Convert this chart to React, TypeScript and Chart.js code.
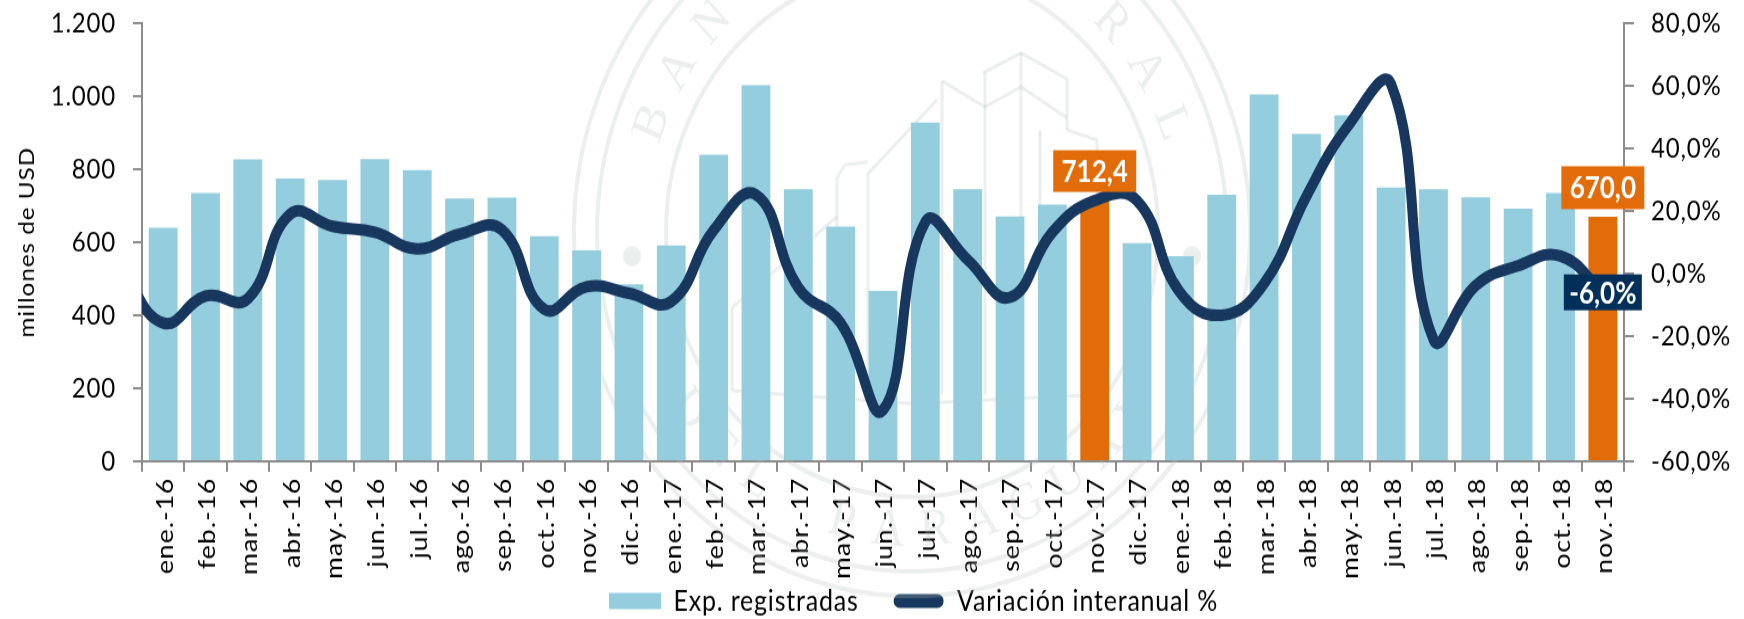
import React, { useEffect, useRef } from "react";
import { Chart, registerables } from "chart.js";

Chart.register(...registerables);

const categories = [
  "ene.-16","feb.-16","mar.-16","abr.-16","may.-16","jun.-16","jul.-16","ago.-16","sep.-16","oct.-16","nov.-16","dic.-16",
  "ene.-17","feb.-17","mar.-17","abr.-17","may.-17","jun.-17","jul.-17","ago.-17","sep.-17","oct.-17","nov.-17","dic.-17",
  "ene.-18","feb.-18","mar.-18","abr.-18","may.-18","jun.-18","jul.-18","ago.-18","sep.-18","oct.-18","nov.-18",
];
const exports_ = [
  640,735,827,775,771,828,798,720,722,617,578,485,
  591,840,1030,745,643,467,928,745,671,703,712.4,598,
  562,730,1005,897,948,750,745,723,692,735,670,
];
const variation = [
  -15.8,-7.2,-8,19,15.1,13.2,7.9,12.6,14,-11.4,-4.2,-6.3,
  -8.9,13.8,25.2,-4.5,-15.8,-43.6,16.5,4.4,-7.6,13.2,23.3,23.3,
  -5.7,-13.3,-3.2,24.7,47.5,60.5,-21,-3.8,2.5,5.6,-6,
];
const priorVariation = 2;
const highlighted = ["nov.-17", "nov.-18"];
const FONT = "Lato, 'Open Sans', sans-serif";
const BLUE = "#94CDDE";
const ORANGE = "#E36C0A";
const NAVY = "#17375E";
const AXIS = "#8C8C8C";
const INK = "#000000";
const WATERMARK = "rgba(176,192,186,0.26)";

// The reference is a picture stretched vertically: the canvas is drawn shorter and shown at full height.
const STRETCH = 1.16;
const CANVAS_W = 1744;
const CANVAS_H = Math.round(619 / STRETCH);
const SPACING = "0.8px";

const callouts = [
  { i: 22, axis: "y", value: 712.4, text: "712,4", bg: ORANGE, w: 83, h: 36, dy: -26 },
  { i: 34, axis: "y", value: 670, text: "670,0", bg: ORANGE, w: 83, h: 37, dy: -25 },
  { i: 34, axis: "y1", value: -6, text: "-6,0%", bg: "#00305A", w: 78, h: 31, dy: 0 },
];

const buildingLines = [
  [[983,73],[1021,53],[1067,79],[1067,130]],
  [[985,107],[1021,87],[1067,118]],
  [[1021,53],[1021,395]],
  [[985,73],[985,395]],
  [[942,81],[985,107]],
  [[942,81],[942,395]],
  [[937,100],[868,174],[868,395]],
  [[868,162],[845,165],[837,178],[837,392]],
  [[732,308],[837,217]],
  [[732,308],[732,391]],
  [[1067,130],[1097,140],[1097,395]],
  [[1040,130],[1040,395]],
  [[732,391],[912,404],[1097,395]],
];

const watermarkPlugin = {
  id: "watermark",
  beforeDatasetsDraw(chart: any) {
    const { ctx } = chart;
    const cx = 912, cy = 200, squash = 0.93;
    ctx.save();
    ctx.letterSpacing = "0px";
    ctx.strokeStyle = WATERMARK;
    ctx.fillStyle = WATERMARK;
    ctx.lineWidth = 4;
    [338, 315, 246].forEach((r) => {
      ctx.beginPath();
      ctx.ellipse(cx, cy, r, r * squash, 0, 0, Math.PI * 2);
      ctx.stroke();
    });
    [-1, 1].forEach((side) => {
      ctx.beginPath();
      ctx.arc(cx + side * 280, 221, 9, 0, Math.PI * 2);
      ctx.fill();
    });
    const arcText = (text: string, r: number, center: number, step: number, flip: boolean) => {
      ctx.font = `46px 'Liberation Serif', serif`;
      ctx.textAlign = "center";
      ctx.textBaseline = "middle";
      [...text].forEach((c, k) => {
        const a = center + (k - (text.length - 1) / 2) * step * (flip ? -1 : 1);
        ctx.save();
        ctx.translate(cx + r * Math.cos(a), cy + r * squash * Math.sin(a));
        ctx.rotate(a + (flip ? -Math.PI / 2 : Math.PI / 2));
        ctx.fillText(c, 0, 0);
        ctx.restore();
      });
    };
    arcText("BANCO CENTRAL", 278, -Math.PI / 2, 0.2, false);
    arcText("DEL PARAGUAY", 278, Math.PI / 2, 0.17, true);
    ctx.lineWidth = 3;
    buildingLines.forEach((line) => {
      ctx.beginPath();
      line.forEach(([x, y], k) => (k ? ctx.lineTo(x, y / STRETCH) : ctx.moveTo(x, y / STRETCH)));
      ctx.stroke();
    });
    ctx.restore();
  },
};

const calloutPlugin = {
  id: "callouts",
  afterDraw(chart: any) {
    const { ctx } = chart;
    const x = chart.scales.x;
    ctx.save();
    ctx.letterSpacing = "0px";
    callouts.forEach((c) => {
      const px = x.getPixelForValue(c.i);
      const py = chart.scales[c.axis].getPixelForValue(c.value) + c.dy;
      ctx.fillStyle = c.bg;
      ctx.fillRect(px - c.w / 2, py - c.h / 2, c.w, c.h);
      ctx.fillStyle = "#FFFFFF";
      ctx.font = `700 26px ${FONT}`;
      ctx.textAlign = "center";
      ctx.textBaseline = "middle";
      ctx.fillText(c.text, px, py + 1);
    });
    ctx.restore();
  },
};

const typographyPlugin = {
  id: "typography",
  beforeInit(chart: any) { chart.ctx.letterSpacing = SPACING; },
  beforeLayout(chart: any) { chart.ctx.letterSpacing = SPACING; },
  beforeDraw(chart: any) { chart.ctx.letterSpacing = SPACING; },
  afterLayout(chart: any) {
    // Wider gap between the two legend keys, and the legend placed where the reference has it.
    const legend = chart.legend;
    legend.options.labels.padding = 34;
    legend.left += 11.5;
    legend.right += 11.5;
    legend.top += -23;
    // Tick labels may run down beside the legend without being clipped.
    chart.scales.x.bottom += 10;
  },
};

export default function App() {
  const ref = useRef<HTMLCanvasElement>(null);
  useEffect(() => {
    const chart = new Chart(ref.current!, {
      type: "bar",
      plugins: [typographyPlugin, watermarkPlugin, calloutPlugin],
      data: {
        labels: categories,
        datasets: [
          {
            type: "line",
            label: "Variación interanual %",
            data: [{ x: -1, y: priorVariation }, ...variation.map((y, i) => ({ x: i, y }))],
            xAxisID: "x2",
            yAxisID: "y1",
            borderColor: NAVY,
            backgroundColor: NAVY,
            borderWidth: 10,
            tension: 0.45,
            pointRadius: 0,
            borderCapStyle: "round",
            order: 1,
          } as any,
          {
            type: "bar",
            label: "Exp. registradas",
            data: exports_,
            xAxisID: "x",
            yAxisID: "y",
            grouped: false,
            backgroundColor: categories.map((c) => (highlighted.includes(c) ? ORANGE : BLUE)),
            barPercentage: 0.68,
            categoryPercentage: 1,
            order: 2,
          },
        ],
      },
      options: {
        responsive: false,
        animation: false,
        layout: { padding: { top: 20, bottom: 0, left: 0, right: 0 } },
        plugins: {
          title: { display: false },
          tooltip: { enabled: false },
          legend: {
            display: true,
            position: "bottom",
            labels: {
              color: INK,
              font: { family: FONT, size: 25 },
              boxWidth: 52,
              boxHeight: 14,
              padding: 4,
              useBorderRadius: true,
              generateLabels: () => [
                { text: "Exp. registradas", fillStyle: BLUE, strokeStyle: BLUE, lineWidth: 0, borderRadius: 0, datasetIndex: 1 },
                { text: "Variación interanual %", fillStyle: NAVY, strokeStyle: "#FFFFFF", lineWidth: 2, borderRadius: 7, datasetIndex: 0 },
              ],
            },
          },
        },
        scales: {
          x: {
            type: "category",
            position: "bottom",
            grid: { offset: true, drawOnChartArea: false, color: AXIS, lineWidth: 2, tickLength: 9, tickColor: AXIS },
            border: { color: AXIS, width: 2 },
            ticks: { color: INK, font: { family: FONT, size: 23 }, minRotation: 90, maxRotation: 90, autoSkip: false, padding: 5, labelOffset: 2 },
            afterFit: (s: any) => { s.height = 97; s.paddingLeft = 0; s.paddingRight = 0; },
          },
          x2: { type: "linear", display: false, min: -0.5, max: 34.5, offset: false },
          y: {
            position: "left",
            min: 0, max: 1200,
            grid: { drawOnChartArea: false, color: AXIS, lineWidth: 2, tickLength: 9, tickColor: AXIS },
            border: { color: AXIS, width: 2 },
            ticks: {
              stepSize: 200, color: INK, font: { family: FONT, size: 24 }, padding: 17,
              callback: (v: any) => Number(v).toLocaleString("de-DE"),
            },
            title: { display: true, text: "millones de USD", color: INK, font: { family: FONT, size: 21 }, padding: { top: 15, bottom: 0 } },
            afterFit: (s: any) => { s.width = 142; s.paddingTop = 0; s.paddingBottom = 0; },
          },
          y1: {
            position: "right",
            min: -60, max: 80,
            grid: { drawOnChartArea: false, color: AXIS, lineWidth: 2, tickLength: 10, tickColor: AXIS },
            border: { color: AXIS, width: 2 },
            ticks: {
              stepSize: 20, color: INK, font: { family: FONT, size: 24 }, padding: 17,
              callback: (v: any) => Number(v).toFixed(1).replace(".", ",") + "%",
            },
            afterFit: (s: any) => { s.width = 120; s.paddingTop = 0; s.paddingBottom = 0; },
          },
        },
      },
    } as any);
    return () => chart.destroy();
  }, []);
  return (
    <canvas
      ref={ref}
      width={CANVAS_W}
      height={CANVAS_H}
      style={{ position: "absolute", left: 0, top: 0, width: 1744, height: 619, background: "#fff" }}
    />
  );
}
